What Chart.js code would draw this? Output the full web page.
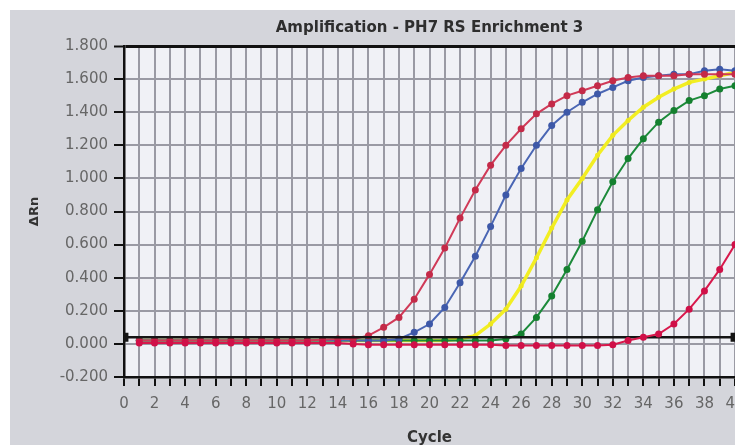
<!DOCTYPE html>
<html>
<head>
<meta charset="utf-8">
<script src="https://cdn.jsdelivr.net/npm/chart.js@4/dist/chart.umd.min.js"></script>
<style>
  html, body { margin: 0; padding: 0; background: #fff; overflow: hidden; }
  #panel { position: absolute; left: 10px; top: 10px; width: 790px; height: 435px; background: #d4d5db; }
  canvas { display: block; }
</style>
</head>
<body>
<div id="panel"><canvas id="amp" width="790" height="435"></canvas></div>
<script>
// --- data ---
const cycles = [1,2,3,4,5,6,7,8,9,10,11,12,13,14,15,16,17,18,19,20,21,22,23,24,25,26,27,28,29,30,31,32,33,34,35,36,37,38,39,40];

const redRn = [0.02,0.02,0.02,0.02,0.02,0.02,0.02,0.02,0.02,0.02,0.02,0.02,0.025,0.03,0.03,
  0.05,0.10,0.16,0.27,0.42,0.58,0.76,0.93,1.08,1.20,1.30,1.39,1.45,1.50,1.53,1.56,1.59,1.61,1.62,1.62,1.62,1.63,1.63,1.63,1.63];
const blueRn = [0.02,0.02,0.02,0.02,0.02,0.02,0.02,0.02,0.02,0.02,0.02,0.02,0.02,0.02,0.02,0.02,0.02,0.03,
  0.07,0.12,0.22,0.37,0.53,0.71,0.90,1.06,1.20,1.32,1.40,1.46,1.51,1.55,1.59,1.61,1.62,1.63,1.63,1.65,1.66,1.65];
const yellowRn = [0.02,0.02,0.02,0.02,0.02,0.02,0.02,0.02,0.02,0.02,0.02,0.02,0.02,0.02,0.02,0.02,0.02,0.02,0.02,0.02,0.02,0.03,
  0.05,0.12,0.21,0.35,0.52,0.70,0.87,1.00,1.14,1.26,1.35,1.43,1.49,1.54,1.58,1.60,1.62,1.64];
const greenRn = [0.02,0.02,0.02,0.02,0.02,0.02,0.02,0.02,0.02,0.02,0.02,0.02,0.02,0.02,0.02,0.02,0.02,0.02,0.02,0.02,0.02,0.02,0.02,0.02,0.03,
  0.06,0.16,0.29,0.45,0.62,0.81,0.98,1.12,1.24,1.34,1.41,1.47,1.50,1.54,1.56];
const magentaRn = [0.005,0.005,0.005,0.005,0.005,0.005,0.005,0.005,0.005,0.005,0.005,0.005,0.005,0.005,0.0,
  -0.005,-0.005,-0.005,-0.005,-0.005,-0.005,-0.005,-0.005,-0.005,-0.01,-0.01,-0.01,-0.01,-0.01,-0.01,-0.01,-0.005,
  0.02,0.04,0.06,0.12,0.21,0.32,0.45,0.60];

const THRESHOLD = 0.04;
const xTicks = { min: 0, max: 40, step: 1 };
const yTicks = { min: -0.2, max: 1.8, step: 0.2 };

const FONT = 'DejaVu Sans';

function pts(values) {
    return values.map((v, i) => ({ x: cycles[i], y: v }));
}

// lower order = drawn later (on top)
function curve(label, values, lineColor, dotColor, order, width, radius) {
    return {
        label: label,
        data: pts(values),
        borderColor: lineColor,
        backgroundColor: dotColor,
        pointBorderColor: dotColor,
        borderWidth: width,
        pointRadius: radius,
        pointBorderWidth: 0,
        tension: 0,
        order: order
    };
}

// plot area fill
const plotBg = {
    id: 'plotBg',
    beforeDraw(chart) {
        const { ctx, chartArea: a } = chart;
        ctx.save();
        ctx.fillStyle = '#f0f1f6';
        ctx.fillRect(a.left, a.top, a.right - a.left, a.bottom - a.top);
        ctx.restore();
    }
};

new Chart(document.getElementById('amp'), {
    type: 'line',
    data: {
        datasets: [
            curve('late', magentaRn, '#d8184c', '#d01048', 1, 2, 3.5),
            {
                label: 'threshold',
                data: [{ x: xTicks.min, y: THRESHOLD }, { x: xTicks.max, y: THRESHOLD }],
                borderColor: '#151515',
                backgroundColor: '#151515',
                borderWidth: 2.5,
                pointStyle: 'rect',
                pointRadius: 4.5,
                order: 2
            },
            curve('red', redRn, '#d03a58', '#c42a48', 3, 2, 3.5),
            curve('blue', blueRn, '#4a66b4', '#3d58a8', 4, 2, 3.5),
            curve('green', greenRn, '#1c8a3a', '#14802f', 5, 2, 3.5),
            curve('yellow', yellowRn, '#f2ee22', '#eee81c', 6, 3.5, 2.5)
        ]
    },
    options: {
        responsive: false,
        animation: false,
        layout: { padding: { left: 0, right: 65, top: 0, bottom: 0 } },
        plugins: {
            legend: { display: false },
            tooltip: { enabled: false },
            title: {
                display: true,
                text: 'Amplification - PH7 RS Enrichment 3',
                fullSize: false,
                color: '#2e2e2e',
                font: { family: FONT, size: 15, weight: 'bold' },
                padding: { top: 9, bottom: 9 }
            }
        },
        scales: {
            x: {
                type: 'linear',
                min: xTicks.min, max: xTicks.max,
                afterFit(scale) { scale.height = 68; },
                ticks: {
                    stepSize: xTicks.step,
                    autoSkip: false,
                    maxRotation: 0,
                    color: '#666',
                    padding: 9,
                    font: { family: FONT, size: 15 },
                    callback: v => (v % 2 === 0 ? String(v) : '')
                },
                grid: { color: '#9a9aa4', lineWidth: 2, tickColor: '#111', tickWidth: 2, tickLength: 9 },
                border: { color: '#111', width: 2.5 },
                title: {
                    display: true, text: 'Cycle', color: '#333',
                    font: { family: FONT, size: 15, weight: 'bold' },
                    padding: { top: 0, bottom: -2 }
                }
            },
            y: {
                min: yTicks.min, max: yTicks.max,
                afterFit(scale) { scale.width = 114; },
                ticks: {
                    stepSize: yTicks.step,
                    color: '#666',
                    padding: 6,
                    font: { family: FONT, size: 15 },
                    callback: v => v.toFixed(3)
                },
                grid: {
                    color: c => (Math.abs(c.tick.value - yTicks.max) < 1e-6 ? '#111' : '#9a9aa4'),
                    lineWidth: c => (Math.abs(c.tick.value - yTicks.max) < 1e-6 ? 3 : 2),
                    tickColor: '#111', tickWidth: 2, tickLength: 10
                },
                border: { color: '#111', width: 2.5 },
                title: {
                    display: true, text: 'ΔRn', color: '#333',
                    font: { family: FONT, size: 13, weight: 'bold' },
                    padding: { top: 17, bottom: 0 }
                }
            }
        }
    },
    plugins: [plotBg]
});
</script>
</body>
</html>
